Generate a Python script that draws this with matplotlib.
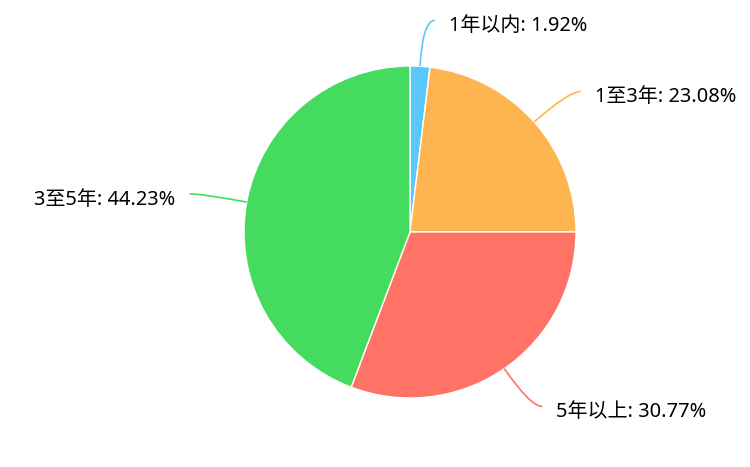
import matplotlib
matplotlib.use("Agg")
import matplotlib.pyplot as plt
import numpy as np
from matplotlib.path import Path
from matplotlib.patches import PathPatch

plt.rcParams['font.family'] = ['Noto Sans', 'Noto Sans CJK SC', 'DejaVu Sans']

categories = ['1年以内', '1至3年', '5年以上', '3至5年']
values = [1, 12, 16, 23]
colors = ['#5AC8FA', '#FFB54F', '#FF7266', '#45DB5F']

W, H = 750, 467
fig = plt.figure(figsize=(W / 100, H / 100), dpi=100)
ax = fig.add_axes([0, 0, 1, 1])

cx, cy, R = 410, H - 232, 166
wedges, _ = ax.pie(values, colors=colors, startangle=90, counterclock=False,
                   radius=R, center=(cx, cy), frame=True,
                   wedgeprops=dict(edgecolor='white', linewidth=1))
ax.set_xlim(0, W)
ax.set_ylim(0, H)
ax.set_aspect('auto')
ax.axis('off')

total = sum(values)
L1, L2, gap, dy = 46, 12, 14, 6
for w, cat, v, col in zip(wedges, categories, values, colors):
    theta = np.deg2rad((w.theta1 + w.theta2) / 2)
    d = np.array([np.cos(theta), np.sin(theta)])
    p0 = np.array([cx, cy]) + R * d
    p1 = np.array([cx, cy]) + (R + L1) * d
    side = 1 if d[0] >= 0 else -1
    p2 = p1 + np.array([side * L2, 0])
    path = Path([p0, p1, p2], [Path.MOVETO, Path.CURVE3, Path.CURVE3])
    ax.add_patch(PathPatch(path, facecolor='none', edgecolor=col, lw=1.2))
    pct = v / total * 100
    ax.text(p2[0] + side * gap, p2[1] - dy, f'{cat}: {pct:.2f}%',
            ha='left' if side > 0 else 'right', va='center',
            fontsize=14.4, color='#000000')

fig.savefig('out.png', dpi=100)
